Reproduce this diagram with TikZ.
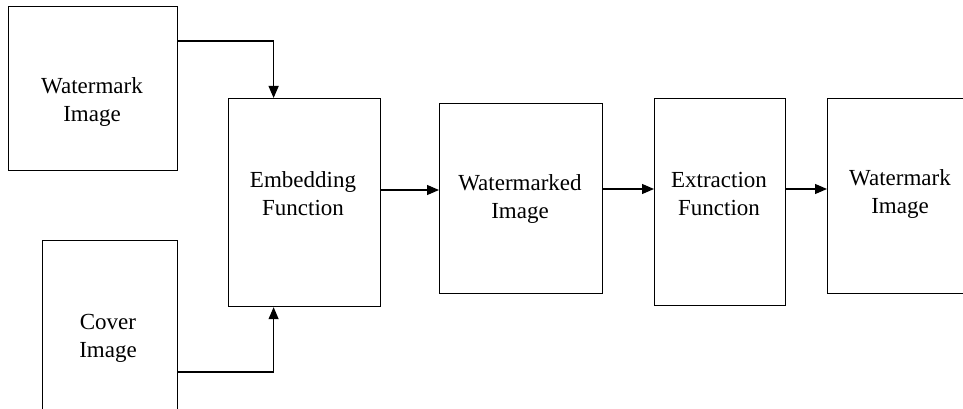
\documentclass[tikz,border=0pt]{standalone}
\usepackage{fontspec}
\setmainfont{Liberation Serif}
\usetikzlibrary{arrows.meta}

\begin{document}
\begin{tikzpicture}[x=1pt, y=-1pt,
    box/.style={draw, line width=1.2pt, anchor=north west, inner sep=0pt},
    txt/.style={align=center, font=\fontsize{23}{28}\selectfont},
    arr/.style={line width=1.2pt, -{Triangle[length=12pt, width=10pt]}}]
    \useasboundingbox (0,0) rectangle (963,409);

    % Draw nodes
    \node[box, minimum width=169pt, minimum height=164pt] (wmin) at (8,6) {};
    \node[box, minimum width=135pt, minimum height=175pt] (cover) at (42,240) {};
    \node[box, minimum width=152pt, minimum height=208pt] (embed) at (228,98) {};
    \node[box, minimum width=163pt, minimum height=190pt] (wmarked) at (439,103) {};
    \node[box, minimum width=131pt, minimum height=207pt] (extract) at (654,98) {};
    \node[box, minimum width=150pt, minimum height=195pt] (wmout) at (827,98) {};

    % Labels
    \node[txt] (wmintxt) at (92,102) {Watermark\\Image};
    \node[txt] (covertxt) at (108,338) {Cover\\Image};
    \node[txt] (embedtxt) at (303,194) {Embedding\\Function};
    \node[txt] (wmarkedtxt) at (520,199) {Watermarked\\Image};
    \node[txt] (extracttxt) at (719,194) {Extraction\\Function};
    \node[txt] (wmouttxt) at (900,194) {Watermark\\Image};

    % Draw connections
    \draw[arr] (wmin.east |- {(0,41)}) -| ([xshift=-31pt]embed.north);
    \draw[arr] (cover.east |- {(0,372)}) -| ([xshift=-31pt]embed.south);
    \draw[arr] (embed.east |- {(0,190)}) -- (wmarked.west |- {(0,190)});
    \draw[arr] (wmarked.east |- {(0,189)}) -- (extract.west |- {(0,189)});
    \draw[arr] (extract.east |- {(0,189)}) -- (wmout.west |- {(0,189)});
\end{tikzpicture}
\end{document}
